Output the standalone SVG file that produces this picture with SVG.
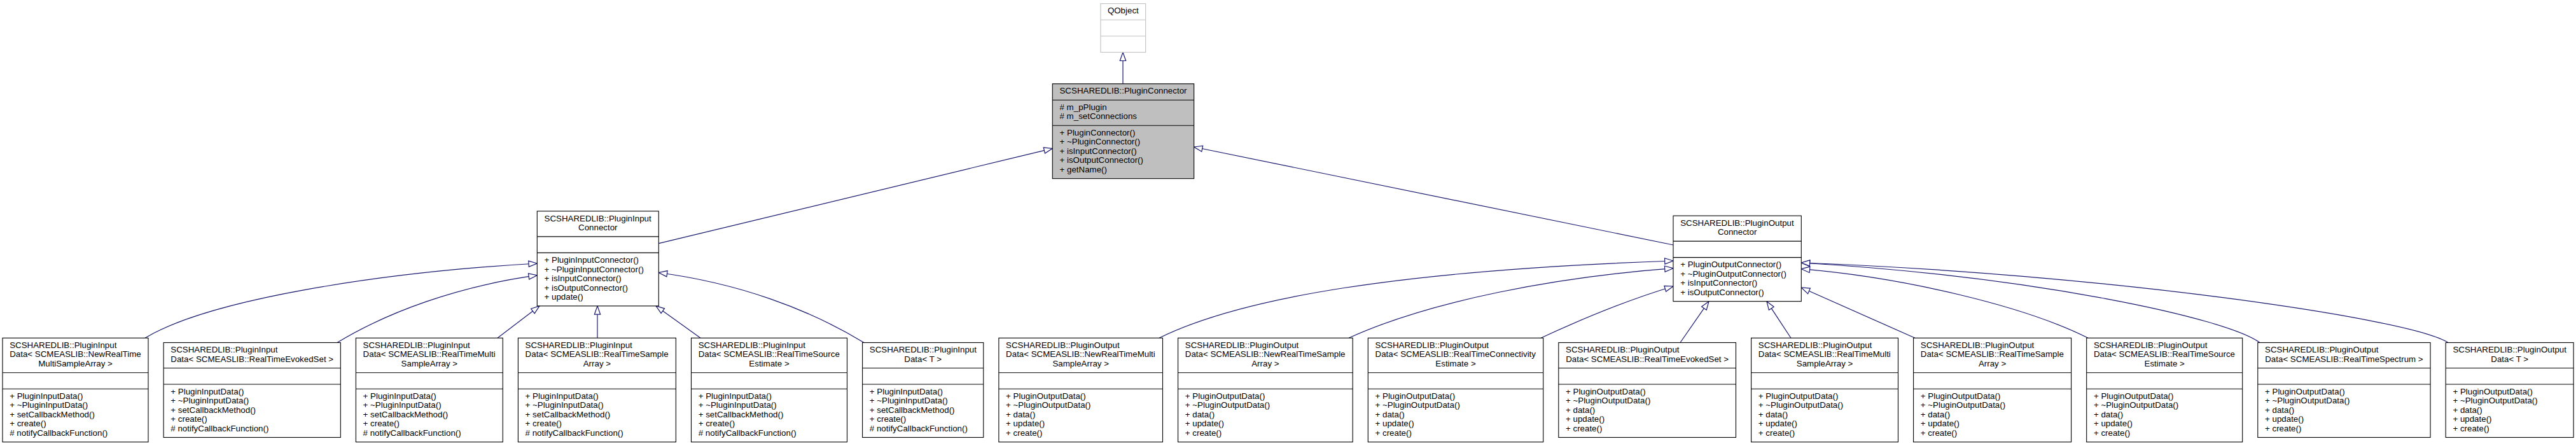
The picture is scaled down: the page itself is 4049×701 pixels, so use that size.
<svg xmlns="http://www.w3.org/2000/svg" width="4049" height="701" viewBox="0 0 4049 701">
<style>
.box{fill:#fff;stroke:#000;stroke-width:1.1}
.ext{fill:#fff;stroke:#bfbfbf;stroke-width:1.1}
.cur{fill:#bfbfbf;stroke:#000;stroke-width:1.1}
.dv{stroke:#000;stroke-width:1.1}
.dvx{stroke:#bfbfbf;stroke-width:1.1}
text{font-family:"Liberation Sans",Arial,Helvetica,sans-serif;font-size:13.33px;fill:#000}
.c{text-anchor:middle}
.edge{fill:none;stroke:#191970;stroke-width:1.2;marker-end:url(#tri)}
</style>
<defs>
<marker id="tri" markerUnits="userSpaceOnUse" markerWidth="16" markerHeight="12" refX="13.3" refY="4.67" orient="auto" overflow="visible">
<path d="M0,0 L13.3,4.67 L0,9.33 Z" fill="#fff" stroke="#191970" stroke-width="1.2"/>
</marker>
</defs>
<rect width="4049" height="701" fill="#fff"/>

<g id="connectors">
<path class="edge" d="M1765,131.7 L1765,82.2"/>
<path class="edge" d="M1035.3,382.7 L1654.3,233.3"/>
<path class="edge" d="M2630,385 L1876.7,231"/>
<path class="edge" d="M228,531.25 C330,470 600,428 844.3,414"/>
<path class="edge" d="M530,538.5 C610,490 720,450 844.3,432.7"/>
<path class="edge" d="M782,531.25 L848,480.9"/>
<path class="edge" d="M939,531.25 L939,480.9"/>
<path class="edge" d="M1101,531.25 L1031,480.9"/>
<path class="edge" d="M1358,538.5 C1270,485 1160,445 1035.3,428.5"/>
<path class="edge" d="M1822,531.25 C1950,468 2200,425 2630,410"/>
<path class="edge" d="M2120,531.25 C2250,472 2450,435 2630,421.7"/>
<path class="edge" d="M2422,531.25 C2500,495 2570,468 2630,450"/>
<path class="edge" d="M2641,538.5 L2686,473.65"/>
<path class="edge" d="M2815,531.25 L2777,473.65"/>
<path class="edge" d="M3010,531.25 L2831.3,452"/>
<path class="edge" d="M3282,531.25 C3180,480 2990,436 2831.3,422.7"/>
<path class="edge" d="M3552,538.5 C3500,500 3200,435 2831.3,413"/>
<path class="edge" d="M3848,538.5 C3790,500 3300,430 2831.3,413"/>
</g>

<g id="QObject">
<rect class="ext" x="1730" y="5.7" width="70.7" height="76.5"/>
<line class="dvx" x1="1730" y1="31.2" x2="1800.7" y2="31.2"/>
<line class="dvx" x1="1730" y1="56.7" x2="1800.7" y2="56.7"/>
<text class="c" x="1765.35" y="21.4">QObject</text>
</g>

<g id="PluginConnector">
<rect class="cur" x="1654.3" y="131.7" width="222.4" height="149"/>
<line class="dv" x1="1654.3" y1="157.2" x2="1876.7" y2="157.2"/>
<line class="dv" x1="1654.3" y1="197.2" x2="1876.7" y2="197.2"/>
<text class="c" x="1765.5" y="147.4">SCSHAREDLIB::PluginConnector</text>
<text x="1665.5" y="172.9"><tspan x="1665.5">#  m_pPlugin</tspan><tspan x="1665.5" dy="14.5">#  m_setConnections</tspan></text>
<text x="1665.5" y="212.9"><tspan x="1665.5">+ PluginConnector()</tspan><tspan x="1665.5" dy="14.5">+ ~PluginConnector()</tspan><tspan x="1665.5" dy="14.5">+ isInputConnector()</tspan><tspan x="1665.5" dy="14.5">+ isOutputConnector()</tspan><tspan x="1665.5" dy="14.5">+ getName()</tspan></text>
</g>

<g id="PluginInputConnector">
<rect class="box" x="844.3" y="331.9" width="191" height="149"/>
<line class="dv" x1="844.3" y1="371.9" x2="1035.3" y2="371.9"/>
<line class="dv" x1="844.3" y1="397.4" x2="1035.3" y2="397.4"/>
<text x="855.5" y="347.6">SCSHAREDLIB::PluginInput</text>
<text class="c" x="939.8" y="362.1">Connector</text>
<text x="855.5" y="413.1"><tspan x="855.5">+ PluginInputConnector()</tspan><tspan x="855.5" dy="14.5">+ ~PluginInputConnector()</tspan><tspan x="855.5" dy="14.5">+ isInputConnector()</tspan><tspan x="855.5" dy="14.5">+ isOutputConnector()</tspan><tspan x="855.5" dy="14.5">+ update()</tspan></text>
</g>

<g id="PluginOutputConnector">
<rect class="box" x="2630" y="339.15" width="201.3" height="134.5"/>
<line class="dv" x1="2630" y1="379.15" x2="2831.3" y2="379.15"/>
<line class="dv" x1="2630" y1="404.65" x2="2831.3" y2="404.65"/>
<text x="2641.2" y="354.85">SCSHAREDLIB::PluginOutput</text>
<text class="c" x="2730.65" y="369.35">Connector</text>
<text x="2641.2" y="420.35"><tspan x="2641.2">+ PluginOutputConnector()</tspan><tspan x="2641.2" dy="14.5">+ ~PluginOutputConnector()</tspan><tspan x="2641.2" dy="14.5">+ isInputConnector()</tspan><tspan x="2641.2" dy="14.5">+ isOutputConnector()</tspan></text>
</g>

<g id="PluginInputData_NewRealTimeMultiSampleArray">
<rect class="box" x="4" y="531.25" width="229" height="163.5"/>
<line class="dv" x1="4" y1="585.75" x2="233" y2="585.75"/>
<line class="dv" x1="4" y1="611.25" x2="233" y2="611.25"/>
<text x="15.2" y="546.95"><tspan x="15.2">SCSHAREDLIB::PluginInput</tspan><tspan x="15.2" dy="14.5">Data&lt; SCMEASLIB::NewRealTime</tspan></text>
<text class="c" x="118.5" y="575.95">MultiSampleArray &gt;</text>
<text x="15.2" y="626.95"><tspan x="15.2">+ PluginInputData()</tspan><tspan x="15.2" dy="14.5">+ ~PluginInputData()</tspan><tspan x="15.2" dy="14.5">+ setCallbackMethod()</tspan><tspan x="15.2" dy="14.5">+ create()</tspan><tspan x="15.2" dy="14.5"># notifyCallbackFunction()</tspan></text>
</g>

<g id="PluginInputData_RealTimeEvokedSet">
<rect class="box" x="257.1" y="538.5" width="278.2" height="149"/>
<line class="dv" x1="257.1" y1="578.5" x2="535.3" y2="578.5"/>
<line class="dv" x1="257.1" y1="604" x2="535.3" y2="604"/>
<text x="268.3" y="554.2">SCSHAREDLIB::PluginInput</text>
<text class="c" x="396.2" y="568.7">Data&lt; SCMEASLIB::RealTimeEvokedSet &gt;</text>
<text x="268.3" y="619.7"><tspan x="268.3">+ PluginInputData()</tspan><tspan x="268.3" dy="14.5">+ ~PluginInputData()</tspan><tspan x="268.3" dy="14.5">+ setCallbackMethod()</tspan><tspan x="268.3" dy="14.5">+ create()</tspan><tspan x="268.3" dy="14.5"># notifyCallbackFunction()</tspan></text>
</g>

<g id="PluginInputData_RealTimeMultiSampleArray">
<rect class="box" x="559.4" y="531.25" width="230.9" height="163.5"/>
<line class="dv" x1="559.4" y1="585.75" x2="790.3" y2="585.75"/>
<line class="dv" x1="559.4" y1="611.25" x2="790.3" y2="611.25"/>
<text x="570.6" y="546.95"><tspan x="570.6">SCSHAREDLIB::PluginInput</tspan><tspan x="570.6" dy="14.5">Data&lt; SCMEASLIB::RealTimeMulti</tspan></text>
<text class="c" x="674.85" y="575.95">SampleArray &gt;</text>
<text x="570.6" y="626.95"><tspan x="570.6">+ PluginInputData()</tspan><tspan x="570.6" dy="14.5">+ ~PluginInputData()</tspan><tspan x="570.6" dy="14.5">+ setCallbackMethod()</tspan><tspan x="570.6" dy="14.5">+ create()</tspan><tspan x="570.6" dy="14.5"># notifyCallbackFunction()</tspan></text>
</g>

<g id="PluginInputData_RealTimeSampleArray">
<rect class="box" x="814.4" y="531.25" width="248" height="163.5"/>
<line class="dv" x1="814.4" y1="585.75" x2="1062.4" y2="585.75"/>
<line class="dv" x1="814.4" y1="611.25" x2="1062.4" y2="611.25"/>
<text x="825.6" y="546.95"><tspan x="825.6">SCSHAREDLIB::PluginInput</tspan><tspan x="825.6" dy="14.5">Data&lt; SCMEASLIB::RealTimeSample</tspan></text>
<text class="c" x="938.4" y="575.95">Array &gt;</text>
<text x="825.6" y="626.95"><tspan x="825.6">+ PluginInputData()</tspan><tspan x="825.6" dy="14.5">+ ~PluginInputData()</tspan><tspan x="825.6" dy="14.5">+ setCallbackMethod()</tspan><tspan x="825.6" dy="14.5">+ create()</tspan><tspan x="825.6" dy="14.5"># notifyCallbackFunction()</tspan></text>
</g>

<g id="PluginInputData_RealTimeSourceEstimate">
<rect class="box" x="1086.5" y="531.25" width="245" height="163.5"/>
<line class="dv" x1="1086.5" y1="585.75" x2="1331.5" y2="585.75"/>
<line class="dv" x1="1086.5" y1="611.25" x2="1331.5" y2="611.25"/>
<text x="1097.7" y="546.95"><tspan x="1097.7">SCSHAREDLIB::PluginInput</tspan><tspan x="1097.7" dy="14.5">Data&lt; SCMEASLIB::RealTimeSource</tspan></text>
<text class="c" x="1209" y="575.95">Estimate &gt;</text>
<text x="1097.7" y="626.95"><tspan x="1097.7">+ PluginInputData()</tspan><tspan x="1097.7" dy="14.5">+ ~PluginInputData()</tspan><tspan x="1097.7" dy="14.5">+ setCallbackMethod()</tspan><tspan x="1097.7" dy="14.5">+ create()</tspan><tspan x="1097.7" dy="14.5"># notifyCallbackFunction()</tspan></text>
</g>

<g id="PluginInputData_T">
<rect class="box" x="1355.6" y="538.5" width="190.2" height="149"/>
<line class="dv" x1="1355.6" y1="578.5" x2="1545.8" y2="578.5"/>
<line class="dv" x1="1355.6" y1="604" x2="1545.8" y2="604"/>
<text x="1366.8" y="554.2">SCSHAREDLIB::PluginInput</text>
<text class="c" x="1450.7" y="568.7">Data&lt; T &gt;</text>
<text x="1366.8" y="619.7"><tspan x="1366.8">+ PluginInputData()</tspan><tspan x="1366.8" dy="14.5">+ ~PluginInputData()</tspan><tspan x="1366.8" dy="14.5">+ setCallbackMethod()</tspan><tspan x="1366.8" dy="14.5">+ create()</tspan><tspan x="1366.8" dy="14.5"># notifyCallbackFunction()</tspan></text>
</g>

<g id="PluginOutputData_NewRealTimeMultiSampleArray">
<rect class="box" x="1569.9" y="531.25" width="257.6" height="163.5"/>
<line class="dv" x1="1569.9" y1="585.75" x2="1827.5" y2="585.75"/>
<line class="dv" x1="1569.9" y1="611.25" x2="1827.5" y2="611.25"/>
<text x="1581.1" y="546.95"><tspan x="1581.1">SCSHAREDLIB::PluginOutput</tspan><tspan x="1581.1" dy="14.5">Data&lt; SCMEASLIB::NewRealTimeMulti</tspan></text>
<text class="c" x="1698.7" y="575.95">SampleArray &gt;</text>
<text x="1581.1" y="626.95"><tspan x="1581.1">+ PluginOutputData()</tspan><tspan x="1581.1" dy="14.5">+ ~PluginOutputData()</tspan><tspan x="1581.1" dy="14.5">+ data()</tspan><tspan x="1581.1" dy="14.5">+ update()</tspan><tspan x="1581.1" dy="14.5">+ create()</tspan></text>
</g>

<g id="PluginOutputData_NewRealTimeSampleArray">
<rect class="box" x="1851.6" y="531.25" width="274.6" height="163.5"/>
<line class="dv" x1="1851.6" y1="585.75" x2="2126.2" y2="585.75"/>
<line class="dv" x1="1851.6" y1="611.25" x2="2126.2" y2="611.25"/>
<text x="1862.8" y="546.95"><tspan x="1862.8">SCSHAREDLIB::PluginOutput</tspan><tspan x="1862.8" dy="14.5">Data&lt; SCMEASLIB::NewRealTimeSample</tspan></text>
<text class="c" x="1988.9" y="575.95">Array &gt;</text>
<text x="1862.8" y="626.95"><tspan x="1862.8">+ PluginOutputData()</tspan><tspan x="1862.8" dy="14.5">+ ~PluginOutputData()</tspan><tspan x="1862.8" dy="14.5">+ data()</tspan><tspan x="1862.8" dy="14.5">+ update()</tspan><tspan x="1862.8" dy="14.5">+ create()</tspan></text>
</g>

<g id="PluginOutputData_RealTimeConnectivityEstimate">
<rect class="box" x="2150.3" y="531.25" width="275.4" height="163.5"/>
<line class="dv" x1="2150.3" y1="585.75" x2="2425.7" y2="585.75"/>
<line class="dv" x1="2150.3" y1="611.25" x2="2425.7" y2="611.25"/>
<text x="2161.5" y="546.95"><tspan x="2161.5">SCSHAREDLIB::PluginOutput</tspan><tspan x="2161.5" dy="14.5">Data&lt; SCMEASLIB::RealTimeConnectivity</tspan></text>
<text class="c" x="2288" y="575.95">Estimate &gt;</text>
<text x="2161.5" y="626.95"><tspan x="2161.5">+ PluginOutputData()</tspan><tspan x="2161.5" dy="14.5">+ ~PluginOutputData()</tspan><tspan x="2161.5" dy="14.5">+ data()</tspan><tspan x="2161.5" dy="14.5">+ update()</tspan><tspan x="2161.5" dy="14.5">+ create()</tspan></text>
</g>

<g id="PluginOutputData_RealTimeEvokedSet">
<rect class="box" x="2449.8" y="538.5" width="278.7" height="149"/>
<line class="dv" x1="2449.8" y1="578.5" x2="2728.5" y2="578.5"/>
<line class="dv" x1="2449.8" y1="604" x2="2728.5" y2="604"/>
<text x="2461" y="554.2">SCSHAREDLIB::PluginOutput</text>
<text class="c" x="2589.15" y="568.7">Data&lt; SCMEASLIB::RealTimeEvokedSet &gt;</text>
<text x="2461" y="619.7"><tspan x="2461">+ PluginOutputData()</tspan><tspan x="2461" dy="14.5">+ ~PluginOutputData()</tspan><tspan x="2461" dy="14.5">+ data()</tspan><tspan x="2461" dy="14.5">+ update()</tspan><tspan x="2461" dy="14.5">+ create()</tspan></text>
</g>

<g id="PluginOutputData_RealTimeMultiSampleArray">
<rect class="box" x="2752.6" y="531.25" width="230.9" height="163.5"/>
<line class="dv" x1="2752.6" y1="585.75" x2="2983.5" y2="585.75"/>
<line class="dv" x1="2752.6" y1="611.25" x2="2983.5" y2="611.25"/>
<text x="2763.8" y="546.95"><tspan x="2763.8">SCSHAREDLIB::PluginOutput</tspan><tspan x="2763.8" dy="14.5">Data&lt; SCMEASLIB::RealTimeMulti</tspan></text>
<text class="c" x="2868.05" y="575.95">SampleArray &gt;</text>
<text x="2763.8" y="626.95"><tspan x="2763.8">+ PluginOutputData()</tspan><tspan x="2763.8" dy="14.5">+ ~PluginOutputData()</tspan><tspan x="2763.8" dy="14.5">+ data()</tspan><tspan x="2763.8" dy="14.5">+ update()</tspan><tspan x="2763.8" dy="14.5">+ create()</tspan></text>
</g>

<g id="PluginOutputData_RealTimeSampleArray">
<rect class="box" x="3007.6" y="531.25" width="248" height="163.5"/>
<line class="dv" x1="3007.6" y1="585.75" x2="3255.6" y2="585.75"/>
<line class="dv" x1="3007.6" y1="611.25" x2="3255.6" y2="611.25"/>
<text x="3018.8" y="546.95"><tspan x="3018.8">SCSHAREDLIB::PluginOutput</tspan><tspan x="3018.8" dy="14.5">Data&lt; SCMEASLIB::RealTimeSample</tspan></text>
<text class="c" x="3131.6" y="575.95">Array &gt;</text>
<text x="3018.8" y="626.95"><tspan x="3018.8">+ PluginOutputData()</tspan><tspan x="3018.8" dy="14.5">+ ~PluginOutputData()</tspan><tspan x="3018.8" dy="14.5">+ data()</tspan><tspan x="3018.8" dy="14.5">+ update()</tspan><tspan x="3018.8" dy="14.5">+ create()</tspan></text>
</g>

<g id="PluginOutputData_RealTimeSourceEstimate">
<rect class="box" x="3279.7" y="531.25" width="245" height="163.5"/>
<line class="dv" x1="3279.7" y1="585.75" x2="3524.7" y2="585.75"/>
<line class="dv" x1="3279.7" y1="611.25" x2="3524.7" y2="611.25"/>
<text x="3290.9" y="546.95"><tspan x="3290.9">SCSHAREDLIB::PluginOutput</tspan><tspan x="3290.9" dy="14.5">Data&lt; SCMEASLIB::RealTimeSource</tspan></text>
<text class="c" x="3402.2" y="575.95">Estimate &gt;</text>
<text x="3290.9" y="626.95"><tspan x="3290.9">+ PluginOutputData()</tspan><tspan x="3290.9" dy="14.5">+ ~PluginOutputData()</tspan><tspan x="3290.9" dy="14.5">+ data()</tspan><tspan x="3290.9" dy="14.5">+ update()</tspan><tspan x="3290.9" dy="14.5">+ create()</tspan></text>
</g>

<g id="PluginOutputData_RealTimeSpectrum">
<rect class="box" x="3548.8" y="538.5" width="271.3" height="149"/>
<line class="dv" x1="3548.8" y1="578.5" x2="3820.1" y2="578.5"/>
<line class="dv" x1="3548.8" y1="604" x2="3820.1" y2="604"/>
<text x="3560" y="554.2">SCSHAREDLIB::PluginOutput</text>
<text class="c" x="3684.45" y="568.7">Data&lt; SCMEASLIB::RealTimeSpectrum &gt;</text>
<text x="3560" y="619.7"><tspan x="3560">+ PluginOutputData()</tspan><tspan x="3560" dy="14.5">+ ~PluginOutputData()</tspan><tspan x="3560" dy="14.5">+ data()</tspan><tspan x="3560" dy="14.5">+ update()</tspan><tspan x="3560" dy="14.5">+ create()</tspan></text>
</g>

<g id="PluginOutputData_T">
<rect class="box" x="3844.2" y="538.5" width="200.9" height="149"/>
<line class="dv" x1="3844.2" y1="578.5" x2="4045.1" y2="578.5"/>
<line class="dv" x1="3844.2" y1="604" x2="4045.1" y2="604"/>
<text x="3855.4" y="554.2">SCSHAREDLIB::PluginOutput</text>
<text class="c" x="3944.65" y="568.7">Data&lt; T &gt;</text>
<text x="3855.4" y="619.7"><tspan x="3855.4">+ PluginOutputData()</tspan><tspan x="3855.4" dy="14.5">+ ~PluginOutputData()</tspan><tspan x="3855.4" dy="14.5">+ data()</tspan><tspan x="3855.4" dy="14.5">+ update()</tspan><tspan x="3855.4" dy="14.5">+ create()</tspan></text>
</g>
</svg>
